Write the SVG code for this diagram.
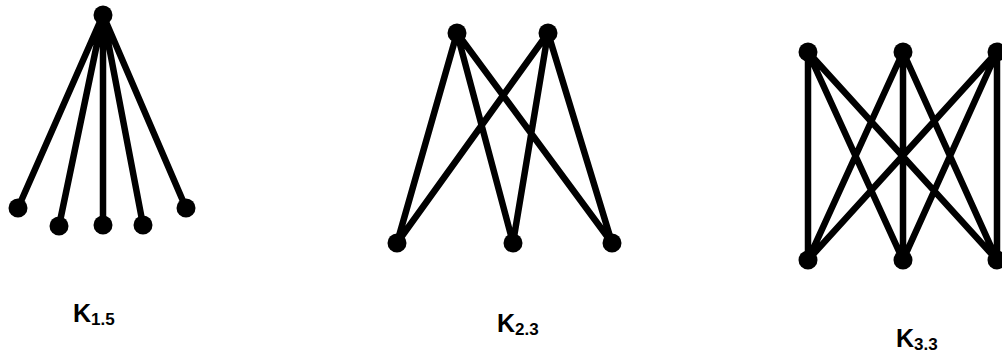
<svg xmlns="http://www.w3.org/2000/svg" width="1002" height="354" viewBox="0 0 1002 354">
<style>
.e{stroke:#000;stroke-width:6.5;stroke-linecap:round;fill:none}
.n{fill:#000}
.lbl{font-family:"Liberation Sans",Arial,sans-serif;font-weight:bold;font-size:25px;fill:#000}
.sub{font-size:17px}
</style>
<rect width="1002" height="354" fill="#fff"/>
<g id="connectors">
<path class="e" d="M103 15L18 208M103 15L59 226M103 15L103 225M103 15L143 225M103 15L186 208"/>
<path class="e" d="M457 33L397 243M457 33L513 243M457 33L612 243M548 33L397 243M548 33L513 243M548 33L612 243"/>
<path class="e" d="M808 52L808 260M808 52L903 260M808 52L997 260M903 52L808 260M903 52L903 260M903 52L997 260M997 52L808 260M997 52L903 260M997 52L997 260"/>
</g>
<g id="k15-top"><circle class="n" cx="103" cy="15" r="9.5"/></g>
<g id="k15-b1"><circle class="n" cx="18" cy="208" r="9.5"/></g>
<g id="k15-b2"><circle class="n" cx="59" cy="226" r="9.5"/></g>
<g id="k15-b3"><circle class="n" cx="103" cy="225" r="9.5"/></g>
<g id="k15-b4"><circle class="n" cx="143" cy="225" r="9.5"/></g>
<g id="k15-b5"><circle class="n" cx="186" cy="208" r="9.5"/></g>
<g id="k23-t1"><circle class="n" cx="457" cy="33" r="9.5"/></g>
<g id="k23-t2"><circle class="n" cx="548" cy="33" r="9.5"/></g>
<g id="k23-b1"><circle class="n" cx="397" cy="243" r="9.5"/></g>
<g id="k23-b2"><circle class="n" cx="513" cy="243" r="9.5"/></g>
<g id="k23-b3"><circle class="n" cx="612" cy="243" r="9.5"/></g>
<g id="k33-t1"><circle class="n" cx="808" cy="52" r="9.5"/></g>
<g id="k33-t2"><circle class="n" cx="903" cy="52" r="9.5"/></g>
<g id="k33-t3"><circle class="n" cx="997" cy="52" r="9.5"/></g>
<g id="k33-b1"><circle class="n" cx="808" cy="260" r="9.5"/></g>
<g id="k33-b2"><circle class="n" cx="903" cy="260" r="9.5"/></g>
<g id="k33-b3"><circle class="n" cx="997" cy="260" r="9.5"/></g>
<g id="label-k15"><text class="lbl" x="73" y="322">K<tspan class="sub" dy="3">1.5</tspan></text></g>
<g id="label-k23"><text class="lbl" x="497" y="332">K<tspan class="sub" dy="3">2.3</tspan></text></g>
<g id="label-k33"><text class="lbl" x="896" y="347">K<tspan class="sub" dy="3">3.3</tspan></text></g>
</svg>
